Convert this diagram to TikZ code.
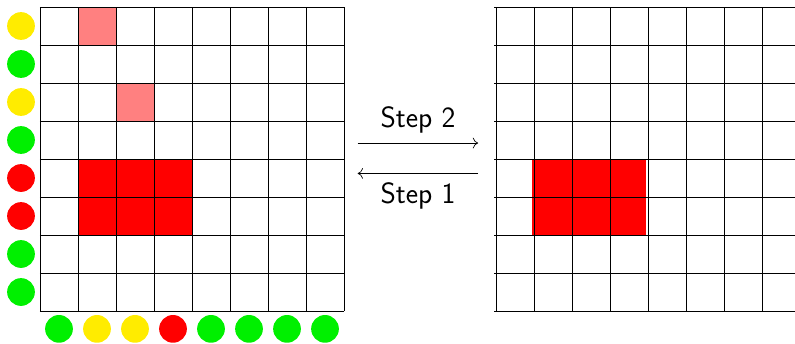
\documentclass[tikz,border=0pt]{standalone}
\usetikzlibrary{arrows.meta}
\definecolor{dotyellow}{RGB}{255,236,0}
\definecolor{dotgreen}{RGB}{0,240,0}
\definecolor{dotred}{RGB}{255,0,0}
\definecolor{cellred}{RGB}{255,0,0}
\definecolor{cellpink}{RGB}{255,128,128}
\tikzset{
  dot/.style={circle,inner sep=0pt,minimum size=0.73cm,draw=none},
  gridline/.style={line width=0.6pt,black},
  stepline/.style={line width=0.5pt,-{To[length=4pt,width=8pt]}},
  steplabel/.style={font=\sffamily\fontsize{22}{26}\selectfont,inner sep=0pt}
}
\begin{document}
\begin{tikzpicture}
\useasboundingbox (-1.0526,0.184) rectangle (19.868,-8.842);
% left grid fills
\fill[cellpink] (1,0) rectangle (2,-1);
\fill[cellpink] (2,-2) rectangle (3,-3);
\fill[cellred] (1,-4) rectangle (4,-6);
\draw[gridline] (0,-8) grid (8,0);
% right grid
\fill[cellred] (12.95,-4) rectangle (15.95,-6);
\draw[gridline] (11.95,-8) grid (19.95,0);
% left dots
\foreach \c [count=\i from 0] in {dotyellow,dotgreen,dotyellow,dotgreen,dotred,dotred,dotgreen,dotgreen}{
  \node[dot,fill=\c] (l\i) at (-0.5,-\i-0.5) {};
}
% bottom dots
\foreach \c [count=\i from 0] in {dotgreen,dotyellow,dotyellow,dotred,dotgreen,dotgreen,dotgreen,dotgreen}{
  \node[dot,fill=\c] (b\i) at (\i+0.5,-8.47) {};
}
% arrows
\coordinate (a2s) at (8.36,-3.58);
\coordinate (a2e) at (11.53,-3.58);
\coordinate (a1s) at (11.53,-4.38);
\coordinate (a1e) at (8.36,-4.38);
\draw[stepline] (a2s) -- (a2e);
\draw[stepline] (a1s) -- (a1e);
\node[steplabel,anchor=base] (s2) at (9.945,-3.184) {Step 2};
\node[steplabel,anchor=base] (s1) at (9.945,-5.184) {Step 1};
\end{tikzpicture}
\end{document}
